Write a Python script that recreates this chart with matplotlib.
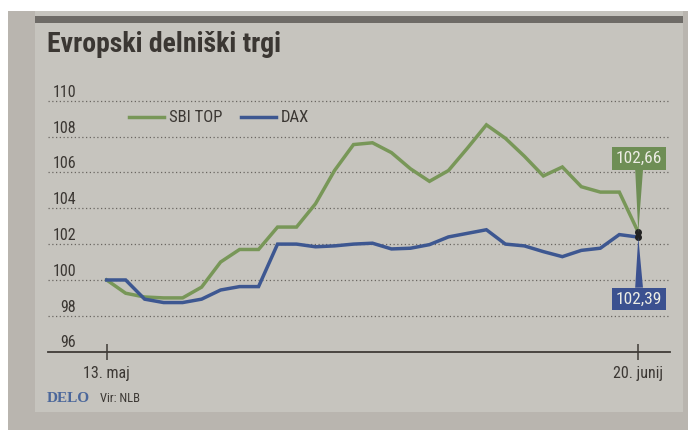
import numpy as np
import matplotlib
matplotlib.use('Agg')
import matplotlib.pyplot as plt
from matplotlib import font_manager
from matplotlib.patches import Rectangle

# trading days 13. maj .. 20. junij
days = np.arange(29)
sbi_top = [100.0, 99.26, 99.05, 99.0, 99.0, 99.6, 101.0, 101.7, 101.7, 102.95,
           102.95, 104.25, 106.1, 107.55, 107.65, 107.1, 106.2, 105.5, 106.1, 107.35,
           108.65, 107.9, 106.9, 105.8, 106.3, 105.2, 104.9, 104.9, 102.66]
dax = [100.0, 100.0, 98.93, 98.74, 98.74, 98.93, 99.44, 99.63, 99.63, 102.0,
       102.0, 101.85, 101.9, 102.0, 102.05, 101.73, 101.77, 101.97, 102.4, 102.6,
       102.8, 102.0, 101.9, 101.58, 101.3, 101.65, 101.77, 102.53, 102.39]
y_ticks = [96, 98, 100, 102, 104, 106, 108, 110]
x_ticks = [0, 28]
x_labels = ['13. maj', '20. junij']
end_labels = ['102,66', '102,39']

GREEN = '#789758'
BLUE = '#3d5791'
INK = '#3b3733'


def pick_font(names):
    have = {f.name for f in font_manager.fontManager.ttflist}
    for n in names:
        if n in have:
            return n
    return 'DejaVu Sans'

cond = pick_font(['Roboto Condensed', 'Liberation Sans Narrow', 'Roboto'])
plt.rcParams['font.family'] = [cond, 'DejaVu Sans']

fig = plt.figure(figsize=(6.88, 4.30), dpi=100)
fig.patch.set_facecolor('white')
W, H = 688.0, 430.0

def fx(px):
    return px / W

def fy(py):
    return 1 - py / H

# paper, panel and top band
fig.patches.append(Rectangle((fx(8), 0), 1, fy(11), transform=fig.transFigure,
                             fc='#b9b5af', ec='none', zorder=-3))
fig.patches.append(Rectangle((fx(35), fy(412)), fx(683 - 35), fy(11) - fy(412),
                             transform=fig.transFigure, fc='#c6c4be', ec='none', zorder=-2))
fig.patches.append(Rectangle((fx(35), fy(23)), fx(683 - 35), fy(16) - fy(23),
                             transform=fig.transFigure, fc='#6e6b67', ec='none', zorder=-1))

fig.text(fx(47), fy(52), 'Evropski delniški trgi', fontsize=20, fontweight='bold',
         color=INK, ha='left', va='baseline')

ax = fig.add_axes([fx(48), fy(351.7), fx(670 - 48), fy(82.7) - fy(351.7)])
ax.set_facecolor('none')
ax.set_xlim(-3.09, 29.67)
ax.set_ylim(96, 111)

for v in y_ticks[1:]:
    ax.axhline(v, color='#6a6661', lw=0.9, ls=(0, (1, 2)), zorder=1)
    ax.text(-1.62, v + 0.22, str(v), ha='right', va='baseline', fontsize=11.5, color=INK)
ax.text(-1.62, 96 + 0.28, '96', ha='right', va='baseline', fontsize=11.5, color=INK)

ax.plot(days, sbi_top, color=GREEN, lw=2.5, solid_joinstyle='miter', zorder=3, label='SBI TOP')
ax.plot(days, dax, color=BLUE, lw=2.5, solid_joinstyle='miter', zorder=3, label='DAX')
ax.plot([days[-1]] * 2, [sbi_top[-1], dax[-1]], 'o', color='#222222', ms=4, zorder=5)

for spine in ['left', 'right', 'top']:
    ax.spines[spine].set_visible(False)
ax.spines['bottom'].set_color('#3f3b37')
ax.spines['bottom'].set_linewidth(1.3)
ax.set_yticks([])
ax.set_xticks(x_ticks)
ax.set_xticklabels(x_labels, fontsize=11.5, color=INK)
ax.tick_params(axis='x', direction='inout', length=12, width=1.1, color='#3f3b37', pad=4)

leg = ax.legend(ncol=2, frameon=False, loc='center left', fontsize=12,
                bbox_to_anchor=(fx(114), fy(118)), bbox_transform=fig.transFigure,
                handlelength=2.1, handletextpad=0.3, columnspacing=1.1)
for t in leg.get_texts():
    t.set_color(INK)

ax.annotate(end_labels[0], xy=(days[-1], sbi_top[-1]), xytext=(28.05, 106.78),
            ha='center', va='center', fontsize=12.5, color='#ecece4',
            bbox=dict(boxstyle='square,pad=0.22', fc='#6e8e55', ec='none'),
            arrowprops=dict(arrowstyle='wedge,tail_width=0.45', fc='#6e8e55', ec='none',
                            shrinkA=0, shrinkB=0), zorder=6)
ax.annotate(end_labels[1], xy=(days[-1], dax[-1]), xytext=(28.05, 98.94),
            ha='center', va='center', fontsize=12.5, color='#ecece4',
            bbox=dict(boxstyle='square,pad=0.22', fc='#3b5190', ec='none'),
            arrowprops=dict(arrowstyle='wedge,tail_width=0.45', fc='#3b5190', ec='none',
                            shrinkA=0, shrinkB=0), zorder=6)

fig.text(fx(47), fy(402), 'DELO', fontsize=11, fontweight='bold', color='#4b679b',
         family=['Liberation Serif', 'DejaVu Serif'], ha='left', va='baseline')
fig.text(fx(100), fy(402), 'Vir: NLB', fontsize=9, color=INK, ha='left', va='baseline')

fig.savefig('out.png', dpi=100, facecolor=fig.get_facecolor())
